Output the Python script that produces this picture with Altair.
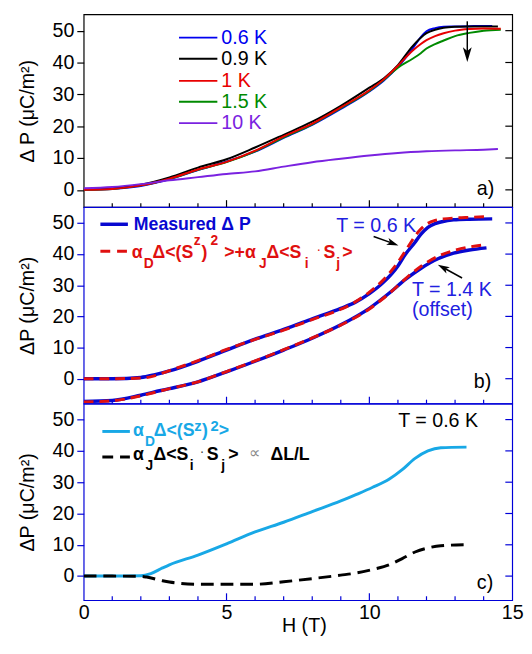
import altair as alt
import pandas as pd

FONT = "Liberation Sans"
FRAME_BLUE = "#0000D8"

# ---------------- data ----------------
# panel a) Delta P vs H for several temperatures
a_H_06 = [0, 1, 2, 3, 4, 5, 6, 7, 8, 9, 10, 10.5, 11, 11.5, 11.8, 12, 12.3, 12.6, 13, 13.5, 14, 14.3]
a_P_06 = [0.0, 0.3, 1.2, 3.3, 6.2, 8.9, 12.0, 16.3, 20.4, 25.4, 30.9, 34.3, 38.6, 44.2, 48.0, 49.8, 50.8, 51.2, 51.3, 51.4, 51.5, 51.5]
a_H_09 = [0, 1, 2, 3, 4, 5, 6, 7, 8, 9, 10, 10.5, 11, 11.5, 11.8, 12, 12.3, 12.6, 13, 13.5, 14, 14.5]
a_P_09 = [0.2, 0.5, 1.6, 3.9, 7.0, 9.6, 13.3, 17.3, 21.4, 26.4, 32.1, 35.0, 39.2, 45.0, 47.8, 49.2, 50.3, 50.9, 51.2, 51.3, 51.3, 51.3]
a_H_1 = [0, 1, 2, 3, 4, 5, 6, 7, 8, 9, 10, 10.5, 11, 11.5, 11.8, 12, 12.3, 12.6, 13, 13.5, 14, 14.6]
a_P_1 = [0.0, 0.3, 1.4, 3.5, 6.4, 8.8, 12.3, 16.8, 20.8, 25.9, 31.3, 34.7, 39.0, 43.6, 45.8, 47.0, 48.3, 49.2, 50.0, 50.5, 50.7, 50.6]
a_H_15 = [0, 1, 2, 3, 4, 5, 6, 7, 8, 9, 10, 10.5, 11, 11.5, 11.8, 12, 12.3, 12.6, 13, 13.5, 14, 14.6]
a_P_15 = [0.0, 0.3, 1.4, 3.4, 6.3, 8.7, 12.1, 16.5, 20.6, 25.7, 31.1, 34.5, 38.4, 41.1, 42.9, 44.4, 45.8, 46.9, 48.3, 49.3, 50.0, 50.3]
a_H_10 = [0, 1, 2, 3, 4, 5, 6, 7, 8, 9, 10, 11, 12, 13, 14, 14.5]
a_P_10 = [0.5, 0.9, 1.8, 3.0, 4.0, 5.0, 5.8, 7.3, 8.7, 9.8, 10.8, 11.6, 12.1, 12.4, 12.6, 12.8]
a_labels = ["0.6 K", "0.9 K", "1 K", "1.5 K", "10 K"]
a_colors = ["#0000F0", "#000000", "#E80000", "#008A00", "#7A22E0"]

# panel b) measured vs model, T = 0.6 K and T = 1.4 K (offset)
b_H_meas06 = [0, 1, 2, 2.5, 3, 4, 5, 6, 7, 8, 9, 9.5, 10, 10.5, 11, 11.25, 11.6, 11.8, 12.05, 12.3, 12.5, 12.95, 13.5, 14.3]
b_P_meas06 = [0.0, 0.0, 0.4, 1.3, 2.5, 5.6, 9.2, 12.7, 15.8, 19.2, 22.6, 24.5, 27.3, 31.0, 36.2, 39.8, 43.8, 46.3, 48.6, 49.8, 50.3, 51.0, 51.2, 51.3]
b_H_mod06 = [0, 1, 2, 2.3, 3, 4, 5, 6, 7, 8, 9, 9.5, 10, 10.5, 11, 11.4, 11.7, 12, 12.3, 12.6, 13, 13.5, 14.1]
b_P_mod06 = [0.0, 0.0, 0.2, 0.5, 2.6, 5.8, 9.4, 12.6, 15.6, 19.0, 22.3, 24.6, 27.8, 31.8, 37.4, 43.0, 47.0, 49.6, 50.8, 51.3, 51.6, 51.8, 52.0]
b_H_meas14 = [0, 1, 2, 2.7, 3, 4, 5, 6, 7, 8, 9, 10, 10.7, 11.25, 11.8, 12.4, 12.95, 13.5, 14.1]
b_P_meas14 = [-7.3, -7.0, -5.3, -3.8, -3.2, -1.0, 2.2, 5.6, 9.2, 13.0, 17.3, 22.6, 27.5, 31.8, 35.4, 38.5, 40.3, 41.3, 42.0]
b_H_mod14 = [0, 1, 2, 3, 4, 5, 6, 7, 8, 9, 10, 10.7, 11.25, 11.8, 12.4, 12.95, 13.5, 14.0]
b_P_mod14 = [-7.5, -7.1, -5.5, -3.2, -1.0, 2.3, 5.7, 9.3, 13.1, 17.2, 22.4, 27.4, 32.0, 36.0, 39.3, 41.1, 42.3, 42.9]

# panel c) the two contributions at T = 0.6 K
c_H_D = [0, 1, 2, 2.35, 2.76, 3, 4, 5, 6, 7, 8, 9, 9.55, 10.1, 10.7, 11.15, 11.6, 12.05, 12.5, 13.4]
c_P_D = [0.0, 0.0, 0.1, 0.8, 2.6, 3.6, 6.7, 10.3, 14.1, 17.2, 20.6, 24.0, 26.1, 28.3, 31.0, 34.0, 37.6, 40.0, 41.0, 41.2]
c_H_J = [0, 1, 2, 2.2, 2.76, 3, 4, 5, 6, 7, 8, 9, 9.55, 10.1, 10.7, 11.15, 11.6, 12.05, 12.5, 13.3]
c_P_J = [0.0, 0.0, -0.1, -0.3, -1.5, -1.9, -2.6, -2.6, -2.6, -1.8, -0.8, 0.3, 1.0, 2.1, 3.6, 5.6, 7.7, 9.0, 9.7, 10.0]

# axis ticks
y_ticks = [0, 10, 20, 30, 40, 50]
x_minor = [1, 2, 3, 4, 6, 7, 8, 9, 11, 12, 13, 14]
x_major = [5, 10]
x_labels = [0, 5, 10, 15]

# ---------------- layout ----------------
W = 436
HA, HB, HC = 196, 200, 200
xs = alt.Scale(domain=[0, 15], nice=False, zero=False)
ys_a = alt.Scale(domain=[-5.4, 55.1], nice=False, zero=False)
ys_b = alt.Scale(domain=[-8, 55.1], nice=False, zero=False)
ys_c = alt.Scale(domain=[-7.7, 55.1], nice=False, zero=False)
ONE = pd.DataFrame({"k": [0]})


def yaxis(title, tick_color):
    return alt.Axis(values=y_ticks, title=title, grid=False, domain=False, tickSize=7,
                    tickColor=tick_color, tickWidth=1.2, labelFont=FONT, labelFontSize=20,
                    labelColor="black", labelPadding=3, titleFont=FONT, titleFontSize=20,
                    titleFontWeight="normal", titleColor="black", titlePadding=15, format="d")


xaxis_c = alt.Axis(values=x_labels, title="H (T)", grid=False, domain=False, ticks=False,
                   tickSize=0, labelFont=FONT, labelFontSize=20, labelColor="black",
                   labelPadding=3, labelFlush=False, titleFont=FONT, titleFontSize=20,
                   titleFontWeight="normal", titleColor="black", titlePadding=-7,
                   titleX=224, format="d")


def series(Hs, Ps, color, width, ys, yax, xax, dash=None):
    df = pd.DataFrame({"H": Hs, "P": Ps})
    kw = dict(color=color, strokeWidth=width, interpolate="monotone", clip=True)
    if dash:
        kw["strokeDash"] = dash
    return alt.Chart(df).mark_line(**kw).encode(
        x=alt.X("H:Q", scale=xs, axis=xax), y=alt.Y("P:Q", scale=ys, axis=yax))


def frame_ticks(ys, yax, xax, h, color):
    right = alt.Chart(pd.DataFrame({"v": y_ticks})).mark_rule(color=color, strokeWidth=1.2).encode(
        y=alt.Y("v:Q", scale=ys, axis=yax), x=alt.value(W - 7), x2=alt.value(W))
    minor = alt.Chart(pd.DataFrame({"t": x_minor})).mark_rule(color=color, strokeWidth=1.2).encode(
        x=alt.X("t:Q", scale=xs, axis=xax), y=alt.value(h - 4), y2=alt.value(h))
    major = alt.Chart(pd.DataFrame({"t": x_major})).mark_rule(color=color, strokeWidth=1.2).encode(
        x=alt.X("t:Q", scale=xs, axis=xax), y=alt.value(h - 7), y2=alt.value(h))
    return [right, minor, major]


def txt(s, x, y, size=20, color="black", weight="normal", baseline="alphabetic", align="left"):
    return alt.Chart(ONE).mark_text(text=s, font=FONT, fontSize=size, color=color,
                                    fontWeight=weight, baseline=baseline, align=align).encode(
        x=alt.value(x), y=alt.value(y))


def seg(x1, y1, x2, y2, color, width, dash=None):
    kw = dict(color=color, strokeWidth=width)
    if dash:
        kw["strokeDash"] = dash
    return alt.Chart(ONE).mark_rule(**kw).encode(
        x=alt.value(x1), y=alt.value(y1), x2=alt.value(x2), y2=alt.value(y2))


HEAD = "M1,0L-1,-0.6L-0.5,0L-1,0.6Z"


def head(x, y, angle, size, color):
    return alt.Chart(ONE).mark_point(shape=HEAD, size=size, filled=True, color=color,
                                     angle=angle, opacity=1, strokeWidth=0).encode(
        x=alt.value(x), y=alt.value(y))


# ---------------- panel a ----------------
ya = yaxis("Δ P (μC/m²)", "black")
la = [
    series(a_H_06, a_P_06, a_colors[0], 2, ys_a, ya, None),
    series(a_H_15, a_P_15, a_colors[3], 2, ys_a, ya, None),
    series(a_H_09, a_P_09, a_colors[1], 2, ys_a, ya, None),
    series(a_H_1, a_P_1, a_colors[2], 2, ys_a, ya, None),
    series(a_H_10, a_P_10, a_colors[4], 2, ys_a, ya, None),
]
la += frame_ticks(ys_a, ya, None, HA, "black")
rows_a = [23.6, 45.2, 67.6, 88.9, 110.6]
for lab, col, ry in zip(a_labels, a_colors, rows_a):
    la.append(seg(97, ry, 136, ry, col, 2))
    la.append(txt(lab, 140, ry, 20, col, baseline="middle"))
la += [seg(390.3, 7, 390.3, 41, "black", 1.5), head(390.3, 41, 90, 225, "black"),
       txt("a)", 400, 184, 20)]
panel_a = alt.layer(*la).properties(width=W, height=HA,
                                     view=alt.ViewBackground(stroke="black", strokeWidth=1.2))

# ---------------- panel b ----------------
yb = yaxis("ΔP (μC/m²)", FRAME_BLUE)
B_BLUE = "#0808D0"
B_RED = "#E01010"
T_BLUE = "#2020E0"
lb = [
    series(b_H_meas06, b_P_meas06, B_BLUE, 3.5, ys_b, yb, None),
    series(b_H_meas14, b_P_meas14, B_BLUE, 3.5, ys_b, yb, None),
    series(b_H_mod06, b_P_mod06, B_RED, 3, ys_b, yb, None, dash=[10, 6]),
    series(b_H_mod14, b_P_mod14, B_RED, 3, ys_b, yb, None, dash=[10, 6]),
]
lb += frame_ticks(ys_b, yb, None, HB, FRAME_BLUE)
lb += [
    seg(17, 17.5, 45, 17.5, B_BLUE, 3.5),
    txt("Measured Δ P", 51, 23, 18, B_BLUE, "bold"),
    seg(17, 45, 44, 45, B_RED, 3, dash=[10, 7]),
    txt("α", 49, 52, 18, B_RED, "bold"),
    txt("D", 61, 61.5, 14, B_RED, "bold"),
    txt("Δ<(S", 70, 52, 18, B_RED, "bold"),
    txt("z", 112, 38.5, 14, B_RED, "bold"),
    txt(")", 120, 52, 18, B_RED, "bold"),
    txt("2", 129, 39, 14, B_RED, "bold"),
    txt(">+α", 143, 52, 18, B_RED, "bold"),
    txt("J", 178.5, 61.5, 14, B_RED, "bold"),
    txt("Δ<S", 186, 52, 18, B_RED, "bold"),
    txt("i", 225, 61.5, 14, B_RED, "bold"),
    txt("·", 237, 47.5, 14, B_RED),
    txt("S", 244, 52, 18, B_RED, "bold"),
    txt("j", 257, 61.5, 14, B_RED, "bold"),
    txt(">", 263, 52, 18, B_RED, "bold"),
    txt("T = 0.6 K", 257, 25.1, 20, T_BLUE),
    txt("T = 1.4 K", 334, 90.1, 20, T_BLUE),
    txt("(offset)", 334, 111.3, 20, T_BLUE),
    seg(295, 30, 314.6, 37, "black", 1.5), head(314.6, 37.0, 19.6, 144, "black"),
    seg(385, 72.2, 365.6, 61.5, "black", 1.5), head(365.6, 61.5, 208.8, 144, "black"),
    txt("b)", 397, 184.5, 20),
]
panel_b = alt.layer(*lb).properties(width=W, height=HB,
                                     view=alt.ViewBackground(stroke=FRAME_BLUE, strokeWidth=1.2))

# ---------------- panel c ----------------
yc = yaxis("ΔP (μC/m²)", FRAME_BLUE)
C_BLUE = "#18A8E6"
lc = [
    series(c_H_D, c_P_D, C_BLUE, 3, ys_c, yc, xaxis_c),
    series(c_H_J, c_P_J, "black", 3, ys_c, yc, xaxis_c, dash=[13, 7]),
]
lc += frame_ticks(ys_c, yc, xaxis_c, HC, FRAME_BLUE)
lc += [
    seg(19, 28.3, 47, 28.3, C_BLUE, 3),
    txt("α", 50.3, 32.5, 18, C_BLUE, "bold"),
    txt("D", 62.5, 43, 14, C_BLUE, "bold"),
    txt("Δ<(S", 71.3, 32.5, 18, C_BLUE, "bold"),
    txt("z", 112.5, 27.5, 15, C_BLUE, "bold"),
    txt(")", 120.5, 32.5, 18, C_BLUE, "bold"),
    txt("2", 129, 28, 15, C_BLUE, "bold"),
    txt(">", 137.5, 32.5, 18, C_BLUE, "bold"),
    seg(19, 54.4, 47, 54.4, "black", 3, dash=[11, 7]),
    txt("α", 50.3, 56.9, 18, "black", "bold"),
    txt("J", 63, 67.5, 14, "black", "bold"),
    txt("Δ<S", 71, 56.9, 18, "black", "bold"),
    txt("i", 108, 67.5, 14, "black", "bold"),
    txt("·", 118, 53, 14, "#444444"),
    txt("S", 125.3, 56.9, 18, "black", "bold"),
    txt("j", 140, 67.5, 14, "black", "bold"),
    txt(">", 147, 56.9, 18, "black", "bold"),
    txt("∝", 168, 55.5, 16, "#888888"),
    txt("ΔL/L", 190, 56.9, 18, "black", "bold"),
    txt("T = 0.6 K", 320, 23.4, 20, "black"),
    txt("c)", 400, 188.4, 20),
]
panel_c = alt.layer(*lc).properties(width=W, height=HC,
                                     view=alt.ViewBackground(stroke=FRAME_BLUE, strokeWidth=1.2))

chart = alt.vconcat(panel_a, panel_b, panel_c, spacing=0, bounds="flush").properties(
    padding={"left": 9, "top": 0, "right": 0, "bottom": 0},
    background="white",
)

chart.save("out.html", embed_options={"renderer": "svg", "actions": False})
